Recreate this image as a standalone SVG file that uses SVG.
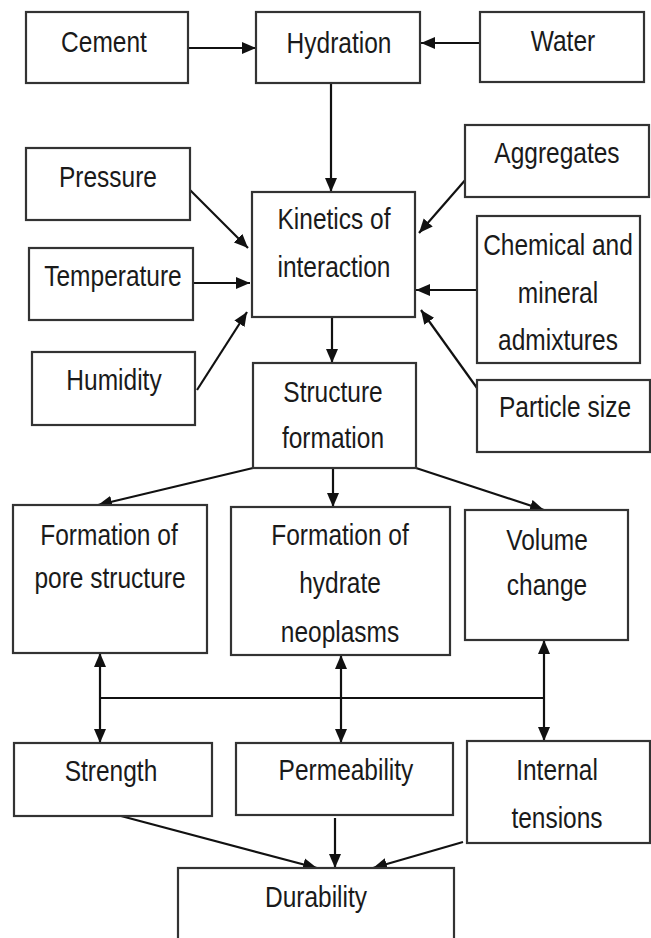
<svg xmlns="http://www.w3.org/2000/svg" width="651" height="938" viewBox="0 0 651 938">
<style>
.box{fill:#fff;stroke:#333;stroke-width:2.2}
.t{font-family:"Liberation Sans",Arial,sans-serif;font-size:24.5px;fill:#1a1a1a;text-anchor:middle}
.c{fill:none;stroke:#111;stroke-width:2.2}
</style>
<defs>
<marker id="ah" markerUnits="userSpaceOnUse" markerWidth="15" markerHeight="13" refX="14" refY="6" orient="auto-start-reverse" viewBox="0 0 15 12">
<path d="M0,0 L14,6 L0,12 z" fill="#111"/>
</marker>
</defs>
<rect width="651" height="938" fill="#fff"/>
<g id="connectors">
<path class="c" d="M188 48 L256 48" marker-end="url(#ah)"/>
<path class="c" d="M480 43 L421 43" marker-end="url(#ah)"/>
<path class="c" d="M331 83 L331 192" marker-end="url(#ah)"/>
<path class="c" d="M190 190 L248 248" marker-end="url(#ah)"/>
<path class="c" d="M193 283 L250 283" marker-end="url(#ah)"/>
<path class="c" d="M197 390 L247 312" marker-end="url(#ah)"/>
<path class="c" d="M467 178 L419 233" marker-end="url(#ah)"/>
<path class="c" d="M477 290 L416 290" marker-end="url(#ah)"/>
<path class="c" d="M477 388 L421 310" marker-end="url(#ah)"/>
<path class="c" d="M332 317 L332 363" marker-end="url(#ah)"/>
<path class="c" d="M253 468 L98 505" marker-end="url(#ah)"/>
<path class="c" d="M333 468 L333 507" marker-end="url(#ah)"/>
<path class="c" d="M416 468 L544 510" marker-end="url(#ah)"/>
<path class="c" d="M100 698 L544 698"/>
<path class="c" d="M100 653 L100 743" marker-start="url(#ah)" marker-end="url(#ah)"/>
<path class="c" d="M341 655 L341 743" marker-start="url(#ah)" marker-end="url(#ah)"/>
<path class="c" d="M544 640 L544 741" marker-start="url(#ah)" marker-end="url(#ah)"/>
<path class="c" d="M121 816 L317 868" marker-end="url(#ah)"/>
<path class="c" d="M335 818 L335 868" marker-end="url(#ah)"/>
<path class="c" d="M463 842 L373 868" marker-end="url(#ah)"/>
</g>
<g id="cement"><rect class="box" x="26" y="12" width="162" height="71"/><text class="t" transform="scale(1 1.2)" x="104" y="43.3">Cement</text></g>
<g id="hydration"><rect class="box" x="256" y="12" width="164" height="71"/><text class="t" transform="scale(1 1.2)" x="339" y="44.2">Hydration</text></g>
<g id="water"><rect class="box" x="480" y="12" width="164" height="70"/><text class="t" transform="scale(1 1.2)" x="563" y="42.5">Water</text></g>
<g id="aggregates"><rect class="box" x="465" y="125" width="184" height="72"/><text class="t" transform="scale(1 1.2)" x="557" y="135.8">Aggregates</text></g>
<g id="pressure"><rect class="box" x="26" y="148" width="164" height="72"/><text class="t" transform="scale(1 1.2)" x="108" y="155.8">Pressure</text></g>
<g id="kinetics"><rect class="box" x="252" y="192" width="163" height="125"/><text class="t" transform="scale(1 1.2)" x="334" y="190.8">Kinetics of</text><text class="t" transform="scale(1 1.2)" x="334" y="230.8">interaction</text></g>
<g id="temperature"><rect class="box" x="29" y="248" width="164" height="72"/><text class="t" transform="scale(1 1.2)" x="113" y="238.3">Temperature</text></g>
<g id="admixtures"><rect class="box" x="477" y="216" width="163" height="147"/><text class="t" transform="scale(1 1.2)" x="558" y="212.5">Chemical and</text><text class="t" transform="scale(1 1.2)" x="558" y="252.5">mineral</text><text class="t" transform="scale(1 1.2)" x="558" y="291.7">admixtures</text></g>
<g id="humidity"><rect class="box" x="32" y="352" width="163" height="73"/><text class="t" transform="scale(1 1.2)" x="114" y="325">Humidity</text></g>
<g id="particle"><rect class="box" x="477" y="380" width="173" height="72"/><text class="t" transform="scale(1 1.2)" x="565" y="347.5">Particle size</text></g>
<g id="structure"><rect class="box" x="253" y="363" width="163" height="105"/><text class="t" transform="scale(1 1.2)" x="333" y="335">Structure</text><text class="t" transform="scale(1 1.2)" x="333" y="373.3">formation</text></g>
<g id="pore"><rect class="box" x="13" y="505" width="194" height="148"/><text class="t" transform="scale(1 1.2)" x="109" y="454.2">Formation of</text><text class="t" transform="scale(1 1.2)" x="110" y="490">pore structure</text></g>
<g id="hydrate"><rect class="box" x="231" y="507" width="219" height="148"/><text class="t" transform="scale(1 1.2)" x="340" y="454.2">Formation of</text><text class="t" transform="scale(1 1.2)" x="340" y="494.2">hydrate</text><text class="t" transform="scale(1 1.2)" x="340" y="535">neoplasms</text></g>
<g id="volume"><rect class="box" x="465" y="510" width="163" height="130"/><text class="t" transform="scale(1 1.2)" x="547" y="458.3">Volume</text><text class="t" transform="scale(1 1.2)" x="547" y="495.8">change</text></g>
<g id="strength"><rect class="box" x="14" y="743" width="198" height="73"/><text class="t" transform="scale(1 1.2)" x="111" y="650.8">Strength</text></g>
<g id="permeability"><rect class="box" x="236" y="743" width="217" height="72"/><text class="t" transform="scale(1 1.2)" x="346" y="650">Permeability</text></g>
<g id="tensions"><rect class="box" x="467" y="741" width="183" height="102"/><text class="t" transform="scale(1 1.2)" x="557" y="650">Internal</text><text class="t" transform="scale(1 1.2)" x="557" y="690">tensions</text></g>
<g id="durability"><rect class="box" x="178" y="868" width="276" height="80"/><text class="t" transform="scale(1 1.2)" x="316" y="755.8">Durability</text></g>
</svg>
